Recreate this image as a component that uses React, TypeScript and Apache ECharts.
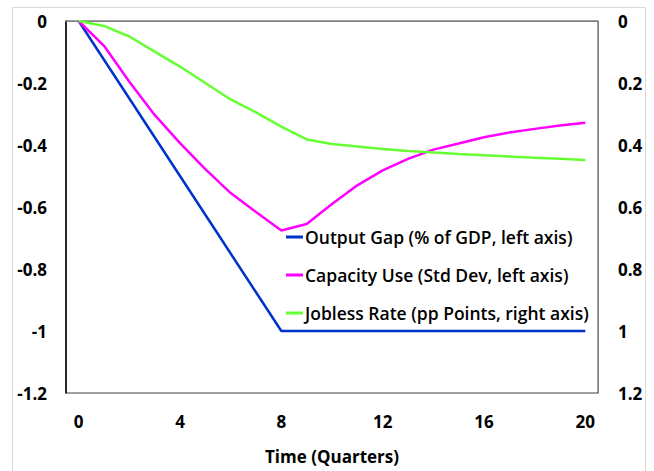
import React, { useEffect, useRef } from "react";
import * as echarts from "echarts";

const quarters = ["0","1","2","3","4","5","6","7","8","9","10","11","12","13","14","15","16","17","18","19","20"];
const outputGap = [0, -0.125, -0.25, -0.375, -0.5, -0.625, -0.75, -0.875, -1, -1, -1, -1, -1, -1, -1, -1, -1, -1, -1, -1, -1];
const capacityUse = [0, -0.08, -0.196, -0.303, -0.394, -0.478, -0.555, -0.616, -0.676, -0.655, -0.59, -0.53, -0.482, -0.445, -0.415, -0.395, -0.375, -0.36, -0.348, -0.337, -0.328];
const joblessRate = [0, 0.016, 0.05, 0.099, 0.147, 0.2, 0.253, 0.295, 0.341, 0.382, 0.397, 0.405, 0.413, 0.419, 0.424, 0.429, 0.433, 0.437, 0.441, 0.444, 0.448];
const leftTicks = { min: -1.2, max: 0, step: 0.2 };
const rightTicks = { min: 0, max: 1.2, step: 0.2 };
const seriesNames = [
  "Output Gap (% of GDP, left axis)",
  "Capacity Use (Std Dev, left axis)",
  "Jobless Rate (pp Points, right axis)",
];
const colors = ["#0033cc", "#ff00ff", "#66ff33"];

const FONT = "'Open Sans', sans-serif";

export default function App() {
  const ref = useRef<HTMLDivElement>(null);
  useEffect(() => {
    if (!ref.current) return;
    const chart = echarts.init(ref.current, undefined, { renderer: "svg" });
    const labelStyle = { color: "#000", fontFamily: FONT, fontWeight: "bold" as const, fontSize: 17 };
    chart.setOption({
      animation: false,
      backgroundColor: "#fff",
      graphic: [
        {
          type: "rect",
          shape: { x: 12.5, y: 7.5, width: 633, height: 480 },
          style: { fill: "none", stroke: "#d9d9d9", lineWidth: 1 },
          silent: true,
        },
      ],
      grid: {
        left: 66,
        right: 56,
        top: 21,
        bottom: 78,
        show: true,
        borderColor: "#404040",
        borderWidth: 1,
      },
      legend: {
        orient: "vertical",
        left: 281,
        top: 220,
        itemGap: 14,
        itemWidth: 17,
        itemHeight: 3,
        icon: "rect",
        textStyle: { color: "#000", fontFamily: FONT, fontSize: 17.5, fontWeight: 600, lineHeight: 24, padding: [0, 0, 0, -3] },
        data: seriesNames,
      },
      xAxis: {
        type: "category",
        data: quarters,
        boundaryGap: true,
        axisLine: { show: true, lineStyle: { color: "#808080", width: 1 } },
        axisTick: { show: false },
        axisLabel: { ...labelStyle, interval: 3, margin: 20 },
        splitLine: { show: false },
        name: "Time (Quarters)",
        nameLocation: "middle",
        nameGap: 55,
        nameTextStyle: { ...labelStyle },
      },
      yAxis: [
        {
          type: "value",
          min: leftTicks.min,
          max: leftTicks.max,
          interval: leftTicks.step,
          axisLine: { show: true, lineStyle: { color: "#000", width: 1.5 } },
          axisTick: { show: false },
          splitLine: { show: false },
          axisLabel: { ...labelStyle, margin: 19, formatter: (v: number) => String(Math.round(v * 10) / 10) },
        },
        {
          type: "value",
          min: rightTicks.min,
          max: rightTicks.max,
          interval: rightTicks.step,
          inverse: true,
          position: "right",
          axisLine: { show: true, lineStyle: { color: "#808080", width: 1 } },
          axisTick: { show: false },
          splitLine: { show: false },
          axisLabel: { ...labelStyle, margin: 20, formatter: (v: number) => String(Math.round(v * 10) / 10) },
        },
      ],
      series: [
        {
          name: seriesNames[0],
          type: "line",
          data: outputGap,
          yAxisIndex: 0,
          showSymbol: false,
          symbol: "none",
          lineStyle: { color: colors[0], width: 2.5 },
          itemStyle: { color: colors[0] },
        },
        {
          name: seriesNames[1],
          type: "line",
          data: capacityUse,
          yAxisIndex: 0,
          showSymbol: false,
          symbol: "none",
          lineStyle: { color: colors[1], width: 2.5 },
          itemStyle: { color: colors[1] },
        },
        {
          name: seriesNames[2],
          type: "line",
          data: joblessRate,
          yAxisIndex: 1,
          showSymbol: false,
          symbol: "none",
          lineStyle: { color: colors[2], width: 2.5 },
          itemStyle: { color: colors[2] },
        },
      ],
    });
    return () => chart.dispose();
  }, []);
  return (
    <div
      ref={ref}
      style={{ position: "fixed", left: 0, top: 0, width: 654, height: 471 }}
    />
  );
}
